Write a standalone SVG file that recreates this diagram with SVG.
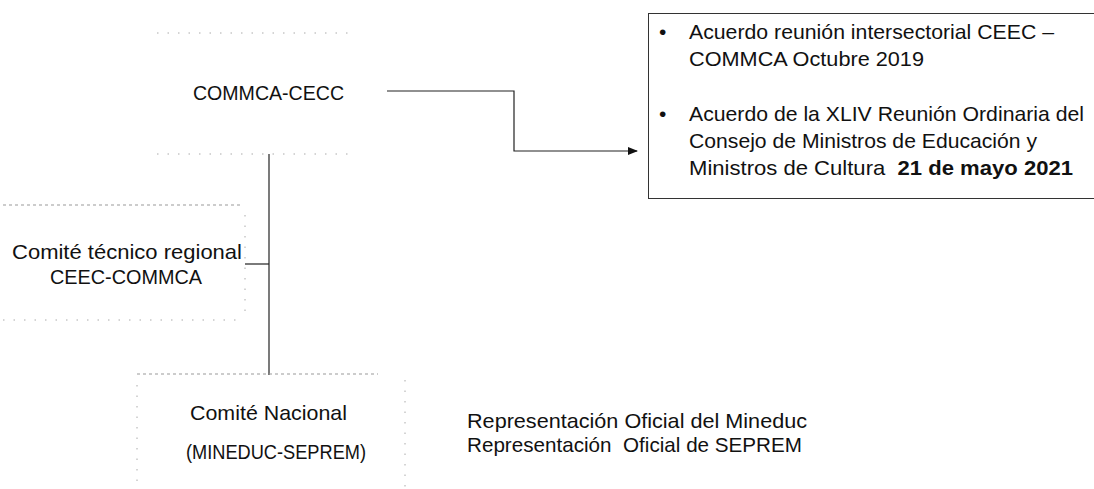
<svg xmlns="http://www.w3.org/2000/svg" width="1094" height="489" viewBox="0 0 1094 489">
<style>
  .t { font-family: "Liberation Sans", Arial, sans-serif; font-size: 21px; fill: #111; white-space: pre; }
  .b { font-weight: bold; }
  .ghost { fill: none; stroke: #aaa; stroke-width: 1; stroke-dasharray: 1.5 9; }
  .ghost2 { fill: none; stroke: #999; stroke-width: 1; stroke-dasharray: 3 3; }
  .box { fill: #fff; stroke: #333; stroke-width: 1; }
  .conn { fill: none; stroke: #222; stroke-width: 1.2; }
</style>
<defs>
  <marker id="arr" markerWidth="10" markerHeight="8" refX="9" refY="4" orient="auto" markerUnits="userSpaceOnUse">
    <path d="M0,0 L10,4 L0,8 Z" fill="#111"/>
  </marker>
</defs>
<rect width="1094" height="489" fill="#fff"/>

<g id="connectors">
  <path class="conn" d="M387,91 H514 V151 H637" marker-end="url(#arr)"/>
  <path class="conn" d="M269,154 V375"/>
  <path class="conn" d="M245,264 H269"/>
</g>

<g id="node-commca">
  <path class="ghost" d="M157,33 H355 M157,154 H350"/>
  <text class="t" x="193" y="100" textLength="151" lengthAdjust="spacingAndGlyphs">COMMCA-CECC</text>
</g>

<g id="node-acuerdos">
  <rect class="box" x="648.5" y="13.5" width="460" height="185"/>
  <text class="t" x="659" y="39">•</text>
  <text class="t" x="689" y="39" textLength="365" lengthAdjust="spacingAndGlyphs">Acuerdo reunión intersectorial CEEC –</text>
  <text class="t" x="689" y="66" textLength="235" lengthAdjust="spacingAndGlyphs">COMMCA Octubre 2019</text>
  <text class="t" x="659" y="121">•</text>
  <text class="t" x="689" y="121" textLength="395" lengthAdjust="spacingAndGlyphs">Acuerdo de la XLIV Reunión Ordinaria del</text>
  <text class="t" x="689" y="148" textLength="348" lengthAdjust="spacingAndGlyphs">Consejo de Ministros de Educación y</text>
  <text class="t" x="689" y="175" textLength="384" lengthAdjust="spacingAndGlyphs">Ministros de Cultura  <tspan class="b">21 de mayo 2021</tspan></text>
</g>

<g id="node-regional">
  <path class="ghost2" d="M3,205 H243"/>
  <path class="ghost" d="M245,215 V318 M3,320 H240"/>
  <text class="t" x="12" y="259" textLength="230" lengthAdjust="spacingAndGlyphs">Comité técnico regional</text>
  <text class="t" x="50" y="284" textLength="152" lengthAdjust="spacingAndGlyphs">CEEC-COMMCA</text>
</g>

<g id="node-nacional">
  <path class="ghost2" d="M137,374 H378"/>
  <path class="ghost" d="M405,380 V489 M137,385 V489"/>
  <text class="t" x="190" y="420" textLength="157" lengthAdjust="spacingAndGlyphs">Comité Nacional</text>
  <text class="t" x="186" y="459" textLength="180" lengthAdjust="spacingAndGlyphs">(MINEDUC-SEPREM)</text>
</g>

<g id="node-representacion">
  <text class="t" x="467" y="428" textLength="340" lengthAdjust="spacingAndGlyphs">Representación Oficial del Mineduc</text>
  <text class="t" x="467" y="452" textLength="335" lengthAdjust="spacingAndGlyphs">Representación  Oficial de SEPREM</text>
</g>
</svg>
